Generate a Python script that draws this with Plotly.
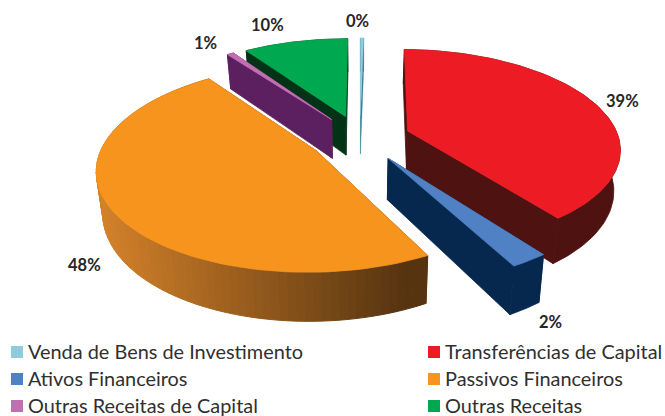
import numpy as np
import plotly.graph_objects as go

categories = ["Venda de Bens de Investimento", "Transferências de Capital", "Ativos Financeiros",
              "Passivos Financeiros", "Outras Receitas de Capital", "Outras Receitas"]
values = [0.3, 39.5, 2.4, 47.7, 0.6, 9.5]
data_labels = ["0%", "39%", "2%", "48%", "1%", "10%"]
top_colors = ["#8ECBDD", "#ED1C24", "#4F81C4", "#F7941D", "#C06FB0", "#00A94F"]
side_colors = ["#2F7F8F", "#4E1210", "#06284E", "#7A4A15", "#5C1F60", "#033316"]
label_xy = [(357, 21), (622, 101), (550, 322), (84, 265), (205, 43), (267, 25)]
legend_xy = [(11, 351), (428, 351), (11, 378), (428, 378), (11, 405), (428, 405)]

CX, CY, A, B, K, H, EXPLODE, SHRINK = 360, 138, 211, 97, 0.164, 40, 0.24, 0.975

total = sum(values)
edges = np.cumsum([0] + values) / total * 2 * np.pi


def project(X, Y, low=False):
    p = 1 / (1 + K * Y)
    x = CX + A * X * p
    y = CY - B * Y * p
    if low:
        x = CX + (x - CX) * SHRINK
        y = y + H * p
    return x, y


def poly(xs, ys, color, lw=0.8):
    return go.Scatter(x=list(xs), y=list(ys), mode="lines", fill="toself", fillcolor=color,
                      line=dict(color=color, width=lw), hoverinfo="skip", showlegend=False)


def mix(c1, c2, t):
    return "rgb(%d,%d,%d)" % tuple(c1[i] + (c2[i] - c1[i]) * t for i in range(3))


fig = go.Figure()
for idx in [0, 5, 4, 1, 2, 3]:
    a0, a1 = edges[idx], edges[idx + 1]
    mid = (a0 + a1) / 2
    ox, oy = EXPLODE * np.sin(mid), EXPLODE * np.cos(mid)
    th = np.linspace(a0, a1, 90)
    X, Y = ox + np.sin(th), oy + np.cos(th)
    tx, ty = project(X, Y)
    bx, by = project(X, Y, True)
    ax, ay = project(ox, oy)
    abx, aby = project(ox, oy, True)
    side = side_colors[idx]
    lw = 0.3 if idx == 0 else 0.8
    # radial walls
    for j in (0, -1):
        fig.add_trace(poly([ax, tx[j], bx[j], abx, ax], [ay, ty[j], by[j], aby, ay], side, lw))
    # rim
    if idx == 3:
        for j in range(len(th) - 1):
            t = np.clip((tx[j] - 100) / 310, 0, 1)
            c = mix((212, 130, 42), (86, 52, 16), t)
            fig.add_trace(poly([tx[j], tx[j + 1], bx[j + 1], bx[j], tx[j]],
                               [ty[j], ty[j + 1], by[j + 1], by[j], ty[j]], c, 1))
    else:
        fig.add_trace(poly(np.r_[tx, bx[::-1], tx[0]], np.r_[ty, by[::-1], ty[0]], side, lw))
    # top face
    fig.add_trace(poly(np.r_[ax, tx, ax], np.r_[ay, ty, ay], top_colors[idx], lw))

# legend swatches
fig.add_trace(go.Scatter(x=[p[0] + 6 for p in legend_xy], y=[p[1] + 1 for p in legend_xy], mode="markers",
                         marker=dict(symbol="square", size=12, color=top_colors, line=dict(width=0)),
                         hoverinfo="skip", showlegend=False))

annotations = []
for (x, y), t in zip(label_xy, data_labels):
    annotations.append(dict(x=x, y=y, text="<b>%s</b>" % t, showarrow=False, xanchor="center", yanchor="middle",
                            font=dict(family="Lato", size=16.5, color="#262626")))
for (x, y), t in zip(legend_xy, categories):
    annotations.append(dict(x=x + 14.5, y=y, text=t, showarrow=False, xanchor="left", yanchor="middle",
                            font=dict(family="Lato", size=19.9, color="#303030")))

fig.update_layout(width=665, height=416, margin=dict(l=0, r=0, t=0, b=0), autosize=False,
                  paper_bgcolor="white", plot_bgcolor="white", showlegend=False, annotations=annotations,
                  xaxis=dict(range=[0, 665], visible=False, fixedrange=True),
                  yaxis=dict(range=[416, 0], visible=False, fixedrange=True))
fig.write_html("out.html", config={"displayModeBar": False},
               post_script="document.body.style.margin='0';document.body.style.overflow='hidden';")
